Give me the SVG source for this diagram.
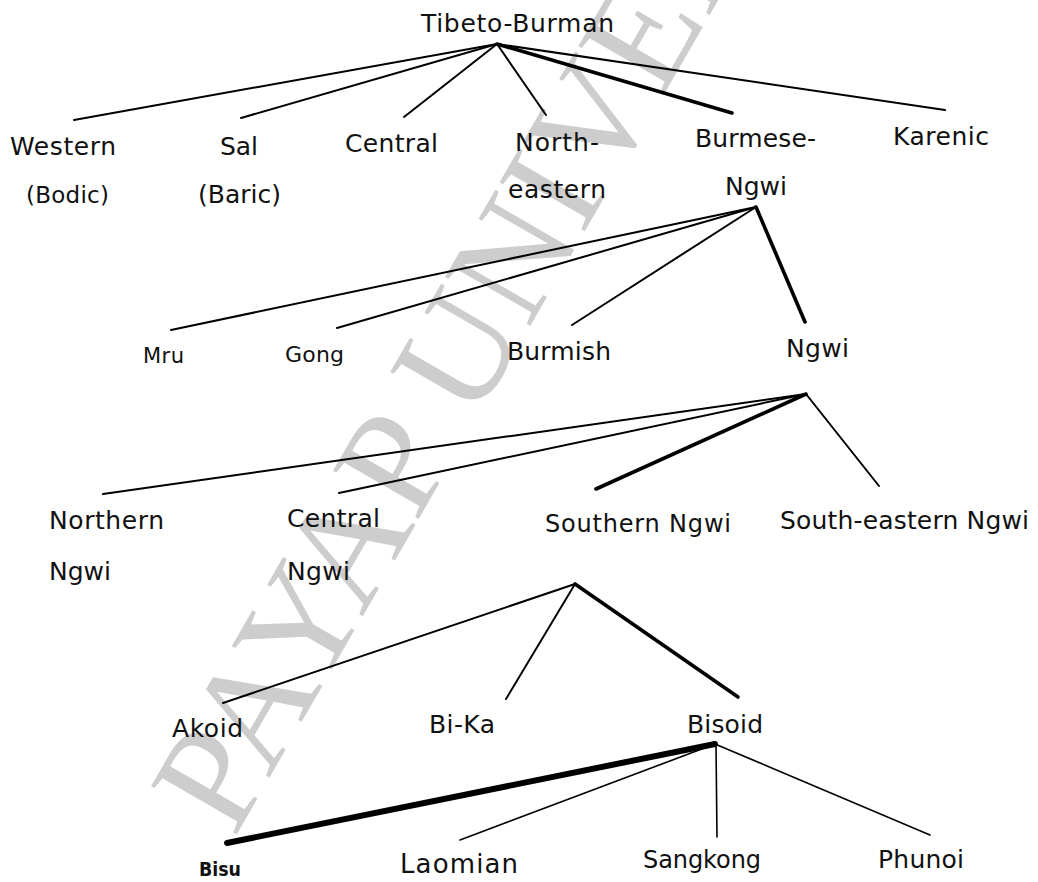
<svg xmlns="http://www.w3.org/2000/svg" width="1038" height="882" viewBox="0 0 1038 882">
<style>
  .lbl { font-family: "DejaVu Sans", Verdana, sans-serif; font-size: 25px; fill: #111; }
  .wm { font-family: "Liberation Serif", "Times New Roman", serif; font-size: 150px; fill: #cdcdcd; }
  .c { stroke: #000; stroke-width: 2; stroke-linecap: round; fill: none; }
  .thick { stroke-width: 3.6; }
  .thicker { stroke-width: 6; }
  .thin { stroke-width: 1.6; }
</style>
<rect width="1038" height="882" fill="#fff"/>
<g id="watermark">
  <text class="wm" x="234" y="839" transform="rotate(-60 234 839)">PAYAP UNIVERSITY</text>
</g>
<g id="connectors">
  <line class="c" x1="497" y1="44" x2="74" y2="120"/>
  <line class="c" x1="497" y1="44" x2="241" y2="118"/>
  <line class="c" x1="497" y1="44" x2="404" y2="117"/>
  <line class="c" x1="497" y1="44" x2="546" y2="115"/>
  <line class="c thick" x1="497" y1="44" x2="732" y2="113"/>
  <line class="c" x1="497" y1="44" x2="945" y2="110"/>

  <line class="c" x1="756" y1="207" x2="171" y2="330"/>
  <line class="c" x1="756" y1="207" x2="337" y2="328"/>
  <line class="c" x1="756" y1="207" x2="572" y2="325"/>
  <line class="c thick" x1="756" y1="207" x2="805" y2="322"/>

  <line class="c" x1="806" y1="394" x2="103" y2="494"/>
  <line class="c" x1="806" y1="394" x2="339" y2="493"/>
  <line class="c thick" x1="806" y1="394" x2="596" y2="489"/>
  <line class="c" x1="806" y1="394" x2="879" y2="486"/>

  <line class="c" x1="575" y1="584" x2="223" y2="703"/>
  <line class="c" x1="575" y1="584" x2="506" y2="699"/>
  <line class="c thick" x1="575" y1="584" x2="738" y2="697"/>

  <line class="c thicker" x1="715" y1="744" x2="227" y2="843"/>
  <line class="c thin" x1="715" y1="744" x2="460" y2="840"/>
  <line class="c thin" x1="716" y1="744" x2="717" y2="837"/>
  <line class="c thin" x1="715" y1="744" x2="930" y2="835"/>
</g>
<g id="n-tibeto-burman"><text class="lbl" x="421" y="32" textLength="193" lengthAdjust="spacing">Tibeto-Burman</text></g>
<g id="n-western"><text class="lbl" x="10" y="155" textLength="106">Western</text><text class="lbl" x="26" y="203" style="font-size:23px" textLength="83">(Bodic)</text></g>
<g id="n-sal"><text class="lbl" x="220" y="155" textLength="38">Sal</text><text class="lbl" x="198" y="203" textLength="83">(Baric)</text></g>
<g id="n-central"><text class="lbl" x="345" y="152" textLength="93">Central</text></g>
<g id="n-northeastern"><text class="lbl" x="515" y="151" textLength="84">North-</text><text class="lbl" x="508" y="198" textLength="98">eastern</text></g>
<g id="n-burmese-ngwi"><text class="lbl" x="695" y="147" textLength="121">Burmese-</text><text class="lbl" x="725" y="195" textLength="62">Ngwi</text></g>
<g id="n-karenic"><text class="lbl" x="893" y="145" textLength="96">Karenic</text></g>

<g id="n-mru"><text class="lbl" x="143" y="363" style="font-size:21px" textLength="41">Mru</text></g>
<g id="n-gong"><text class="lbl" x="285" y="362" style="font-size:22px" textLength="59">Gong</text></g>
<g id="n-burmish"><text class="lbl" x="507" y="360" textLength="104">Burmish</text></g>
<g id="n-ngwi"><text class="lbl" x="786" y="357" textLength="63">Ngwi</text></g>

<g id="n-northern-ngwi"><text class="lbl" x="49" y="529" textLength="115">Northern</text><text class="lbl" x="49" y="580" textLength="62">Ngwi</text></g>
<g id="n-central-ngwi"><text class="lbl" x="287" y="527" textLength="93">Central</text><text class="lbl" x="287" y="580" textLength="63">Ngwi</text></g>
<g id="n-southern-ngwi"><text class="lbl" x="545" y="532" style="font-size:24px" textLength="186">Southern Ngwi</text></g>
<g id="n-southeastern-ngwi"><text class="lbl" x="780" y="529" textLength="249">South-eastern Ngwi</text></g>

<g id="n-akoid"><text class="lbl" x="172" y="737" textLength="71">Akoid</text></g>
<g id="n-bika"><text class="lbl" x="429" y="733" textLength="66">Bi-Ka</text></g>
<g id="n-bisoid"><text class="lbl" x="687" y="733" textLength="76">Bisoid</text></g>

<g id="n-bisu"><text class="lbl" x="199" y="876" style="font-size:20px;font-weight:bold" textLength="42" lengthAdjust="spacingAndGlyphs">Bisu</text></g>
<g id="n-laomian"><text class="lbl" x="400" y="873" style="font-size:26px" textLength="118">Laomian</text></g>
<g id="n-sangkong"><text class="lbl" x="643" y="868" style="font-size:24px" textLength="118">Sangkong</text></g>
<g id="n-phunoi"><text class="lbl" x="878" y="868" textLength="86">Phunoi</text></g>
</svg>
